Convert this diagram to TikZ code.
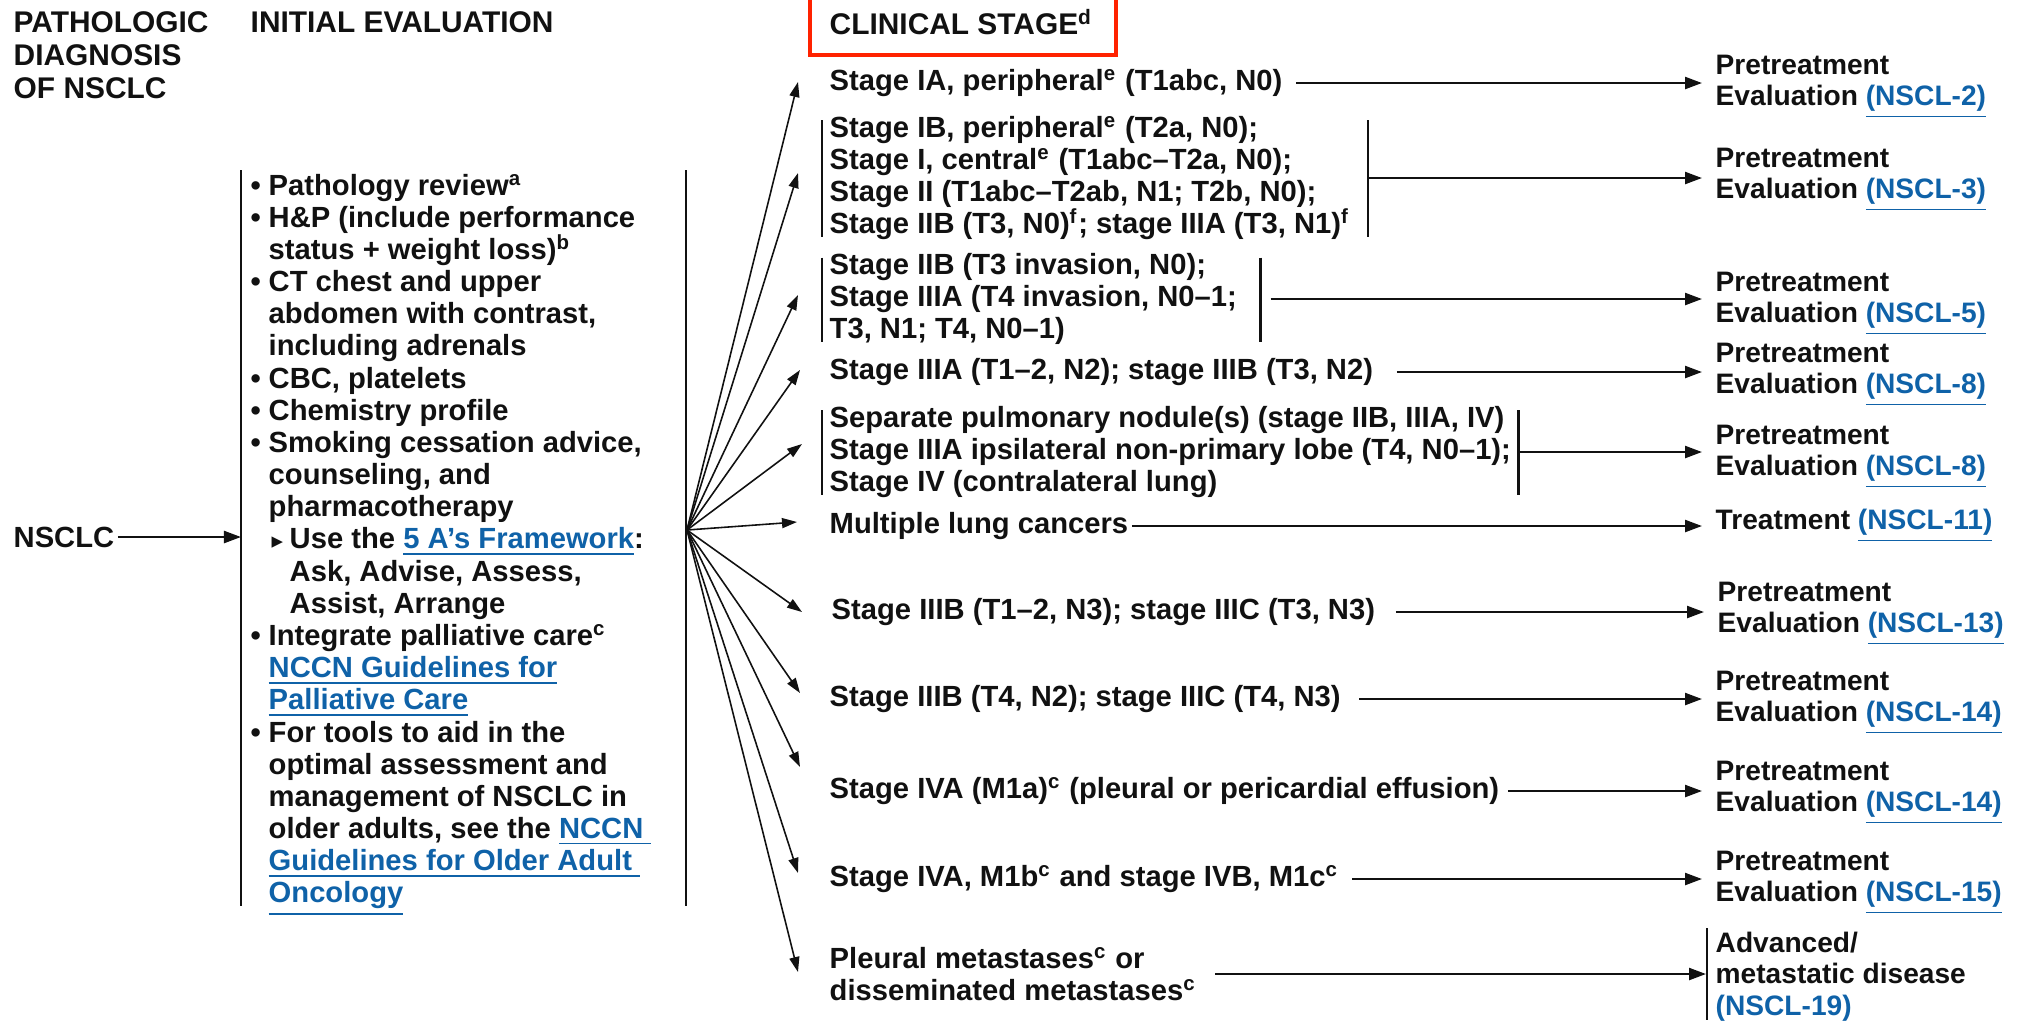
\documentclass[tikz,border=0pt]{standalone}
\usepackage{fontspec}
\setmainfont{Liberation Sans}
\newfontfamily\symfont{DejaVu Sans}
\usepackage{xcolor}
\usetikzlibrary{arrows.meta,positioning,calc}
\definecolor{ink}{HTML}{111111}
\definecolor{linkblue}{HTML}{0F62A8}
\definecolor{flag}{HTML}{FF2200}
\newcommand\fsz{\fontsize{8.3}{9.15}\selectfont\bfseries}
\newcommand\rsz{\fontsize{8.0}{8.9}\selectfont\bfseries}
\newcommand\hsz{\fontsize{8.5}{9.35}\selectfont\bfseries}
\newcommand\lnk[1]{{\color{linkblue}\underline{#1}}}
\newcommand\bl{\makebox[0.18cm][l]{\textbullet}}
\newcommand\ind{\hspace*{0.18cm}}
\newcommand\subbl{\hspace*{0.21cm}\makebox[0.18cm][l]{{\symfont\fontsize{6.5}{6.5}\selectfont ▸}}}
\newcommand\subind{\hspace*{0.39cm}}
\tikzset{
  txt/.style={inner sep=0pt, align=left, anchor=west, font=\fsz, text=ink},
  nxt/.style={txt, font=\rsz},
  hdr/.style={inner sep=0pt, align=left, anchor=west, font=\hsz, text=ink},
  conn/.style={-{Triangle[length=0.17cm,width=0.12cm]}, line width=0.65pt, draw=ink},
  fan/.style={-{Triangle[length=0.15cm,width=0.1cm]}, line width=0.45pt, draw=ink},
  bar/.style={line width=0.65pt, draw=ink},
  redbox/.style={line width=0.9pt, draw=flag}
}
\begin{document}
\begin{tikzpicture}[x=0.01cm,y=-0.01cm]
  \useasboundingbox (0,0) rectangle (2023,1020);

  % column heads
  \node[hdr] (hpath) at (13,55) {PATHOLOGIC\\DIAGNOSIS\\OF NSCLC};
  \node[hdr] (hinit) at (250,22) {INITIAL EVALUATION};
  \node[hdr] (hclin) at (829,22) {CLINICAL STAGE\textsuperscript{d}};
  \draw[redbox] (810,-10) rectangle (1116,55);

  % diagnosis and work-up
  \node[txt] (nsclc) at (13,537) {NSCLC};
  \node[txt] (eval) at (250,545) {%
    \bl Pathology review\textsuperscript{a}\\
    \bl H\&P (include performance\\
    \ind status + weight loss)\textsuperscript{b}\\
    \bl CT chest and upper\\
    \ind abdomen with contrast,\\
    \ind including adrenals\\
    \bl CBC, platelets\\
    \bl Chemistry profile\\
    \bl Smoking cessation advice,\\
    \ind counseling, and\\
    \ind pharmacotherapy\\
    \subbl Use the \lnk{5 A’s Framework}:\\
    \subind Ask, Advise, Assess,\\
    \subind Assist, Arrange\\
    \bl Integrate palliative care\textsuperscript{c}\\
    \ind\lnk{NCCN Guidelines for}\\
    \ind\lnk{Palliative Care}\\
    \bl For tools to aid in the\\
    \ind optimal assessment and\\
    \ind management of NSCLC in\\
    \ind older adults, see the \lnk{NCCN\ }\\
    \ind\lnk{Guidelines for Older Adult\ }\\
    \ind\lnk{Oncology}};
  \coordinate (lbar) at (241,170);
  \coordinate (rbar) at (686,170);
  \draw[bar] (lbar) -- ++(0,736);
  \draw[bar] (rbar) -- ++(0,736);
  \coordinate (hub) at (687,530);
  \draw[conn] ($(nsclc.east)+(3,0)$) -- (nsclc.east -| lbar);

  % clinical stages
  \node[txt] (ia) at (829,83) {Stage IA, peripheral\textsuperscript{e} (T1abc, N0)};
  \node[txt] (gi) at (829,178) {Stage IB, peripheral\textsuperscript{e} (T2a, N0);\\
    Stage I, central\textsuperscript{e} (T1abc–T2a, N0);\\
    Stage II (T1abc–T2ab, N1; T2b, N0);\\
    Stage IIB (T3, N0)\textsuperscript{f}; stage IIIA (T3, N1)\textsuperscript{f}};
  \node[txt] (giib) at (829,299) {Stage IIB (T3 invasion, N0);\\
    Stage IIIA (T4 invasion, N0–1;\\
    T3, N1; T4, N0–1)};
  \node[txt] (iiia) at (829,372) {Stage IIIA (T1–2, N2); stage IIIB (T3, N2)};
  \node[txt] (gsep) at (829,452) {Separate pulmonary nodule(s) (stage IIB, IIIA, IV)\\
    Stage IIIA ipsilateral non-primary lobe (T4, N0–1);\\
    Stage IV (contralateral lung)};
  \node[txt] (mlc) at (829,526) {Multiple lung cancers};
  \node[txt] (iiibn3) at (831,612) {Stage IIIB (T1–2, N3); stage IIIC (T3, N3)};
  \node[txt] (iiibt4) at (829,699) {Stage IIIB (T4, N2); stage IIIC (T4, N3)};
  \node[txt] (ivaa) at (829,791) {Stage IVA (M1a)\textsuperscript{c} (pleural or pericardial effusion)};
  \node[txt] (ivab) at (829,879) {Stage IVA, M1b\textsuperscript{c} and stage IVB, M1c\textsuperscript{c}};
  \node[txt] (pleu) at (829,974) {Pleural metastases\textsuperscript{c} or\\
    disseminated metastases\textsuperscript{c}};

  % brackets round grouped stages
  \draw[bar] ($(gi.north west)+(-7,5)$) -- ($(gi.south west)+(-7,-4)$);
  \draw[bar] ($(gi.north east)+(18,5)$) -- ($(gi.south east)+(18,-4)$);
  \draw[bar] ($(giib.north west)+(-7,5)$) -- ($(giib.south west)+(-7,-4)$);
  \draw[bar] ($(giib.north east)+(23,5)$) -- ($(giib.south east)+(23,-4)$);
  \draw[bar] ($(gsep.north west)+(-7,5)$) -- ($(gsep.south west)+(-7,-4)$);
  \draw[bar] ($(gsep.north east)+(7,5)$) -- ($(gsep.south east)+(7,-4)$);

  % next steps
  \node[nxt] (p2) at (1715,87) {Pretreatment\\Evaluation \lnk{(NSCL-2)}};
  \node[nxt] (p3) at (1715,180) {Pretreatment\\Evaluation \lnk{(NSCL-3)}};
  \node[nxt] (p5) at (1715,304) {Pretreatment\\Evaluation \lnk{(NSCL-5)}};
  \node[nxt] (p8a) at (1715,375) {Pretreatment\\Evaluation \lnk{(NSCL-8)}};
  \node[nxt] (p8b) at (1715,457) {Pretreatment\\Evaluation \lnk{(NSCL-8)}};
  \node[nxt] (t11) at (1715,526) {Treatment \lnk{(NSCL-11)}};
  \node[nxt] (p13) at (1717,614) {Pretreatment\\Evaluation \lnk{(NSCL-13)}};
  \node[nxt] (p14a) at (1715,703) {Pretreatment\\Evaluation \lnk{(NSCL-14)}};
  \node[nxt] (p14b) at (1715,793) {Pretreatment\\Evaluation \lnk{(NSCL-14)}};
  \node[nxt] (p15) at (1715,883) {Pretreatment\\Evaluation \lnk{(NSCL-15)}};
  \node[nxt] (adv) at (1715,980) {Advanced/\\metastatic disease\\\lnk{(NSCL-19)}};
  \draw[bar] ($(adv.north west)+(-8,-3)$) -- (1707,1020);

  % fan out of the work-up
  \foreach \n/\dx/\dy in {ia/-31/-1, gi/-31/-5, giib/-31/-4, iiia/-29/-2, gsep/-27/-8,
      mlc/-32/-4, iiibn3/-29/0, iiibt4/-29/-6, ivaa/-29/-24, ivab/-31/-6, pleu/-31/-2}
    {\draw[fan] (hub) -- ($(\n.west)+(\dx,\dy)$);}

  % stage to next step
  \draw[conn] ($(ia.east)+(13,0)$) -- ($(ia.east -| p2.west)+(-13,0)$);
  \draw[conn] ($(gi.east)+(18,0)$) -- ($(gi.east -| p3.west)+(-13,0)$);
  \draw[conn] ($(giib.east)+(33,0)$) -- ($(giib.east -| p5.west)+(-13,0)$);
  \draw[conn] ($(iiia.east)+(23,0)$) -- ($(iiia.east -| p8a.west)+(-13,0)$);
  \draw[conn] ($(gsep.east)+(7,0)$) -- ($(gsep.east -| p8b.west)+(-13,0)$);
  \draw[conn] ($(mlc.east)+(3,0)$) -- ($(mlc.east -| t11.west)+(-13,0)$);
  \draw[conn] ($(iiibn3.east)+(20,0)$) -- ($(iiibn3.east -| p13.west)+(-13,0)$);
  \draw[conn] ($(iiibt4.east)+(18,0)$) -- ($(iiibt4.east -| p14a.west)+(-13,0)$);
  \draw[conn] ($(ivaa.east)+(8,0)$) -- ($(ivaa.east -| p14b.west)+(-13,0)$);
  \draw[conn] ($(ivab.east)+(13,0)$) -- ($(ivab.east -| p15.west)+(-13,0)$);
  \draw[conn] ($(pleu.east)+(18,0)$) -- ($(pleu.east -| adv.west)+(-9,0)$);
\end{tikzpicture}
\end{document}
